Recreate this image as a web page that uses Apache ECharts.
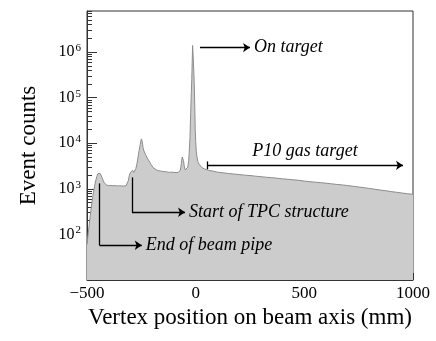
<!DOCTYPE html>
<html>
<head>
<meta charset="utf-8">
<script src="https://cdn.jsdelivr.net/npm/echarts@6/dist/echarts.min.js"></script>
<style>
  html, body { margin: 0; padding: 0; background: #fff; }
  #chart { width: 436px; height: 341px; }
</style>
</head>
<body>
<div id="chart"></div>
<script>
// vertex position along beam axis (mm) and counts per bin
const vertexPos = [
  -500, -495, -490, -485, -480, -475, -470, -465, -460, -455, -450, -445, -440, -435, -430, -425, -420, -415,
  -410, -405, -400, -390, -380, -370, -360, -350, -340, -330, -320, -315, -310, -305, -300, -295, -290, -285,
  -280, -275, -270, -265, -260, -255, -250, -246, -242, -238, -234, -230, -225, -220, -215, -210, -205, -200,
  -195, -190, -180, -170, -160, -150, -140, -130, -120, -110, -100, -90, -80, -75, -70, -66, -62, -59, -56,
  -52, -48, -44, -40, -36, -32, -30, -26, -23, -20, -18, -16, -14, -12, -10, -7, -4, -2, 0, 3, 6, 10, 15,
  20, 30, 40, 60, 80, 100, 125, 150, 175, 200, 225, 250, 275, 300, 325, 350, 375, 400, 425, 450, 475, 500,
  525, 550, 575, 600, 625, 650, 675, 700, 725, 750, 775, 800, 825, 850, 875, 900, 925, 950, 975, 1000
];
const eventCounts = [
  60, 100, 160, 260, 400, 600, 850, 1150, 1500, 1850, 2150, 2250, 2200, 2000, 1750, 1500, 1350, 1250,
  1220, 1200, 1180, 1190, 1170, 1180, 1160, 1170, 1160, 1150, 1180, 1250, 1500, 2000, 2300, 2450, 2550, 2300,
  2400, 2800, 3600, 5000, 7000, 9500, 12500, 11000, 8000, 6800, 6200, 5600, 5000, 4500, 4100, 3800, 3400, 3100,
  2900, 2750, 2600, 2500, 2450, 2400, 2380, 2350, 2300, 2330, 2300, 2280, 2300, 2350, 2600, 3600, 5000, 5200, 4200,
  3000, 2600, 2500, 2600, 3000, 4200, 6000, 14000, 45000, 130000, 250000, 600000, 1400000, 900000, 550000, 240000, 60000, 20000, 11000, 6500, 5000, 4000, 3500,
  3200, 2900, 2750, 2550, 2450, 2330, 2250, 2180, 2120, 2060, 2000, 1960, 1900, 1850, 1800, 1760, 1710, 1660, 1620, 1580, 1540, 1480,
  1440, 1400, 1370, 1330, 1290, 1250, 1220, 1180, 1140, 1100, 1060, 1020, 980, 940, 910, 870, 840, 810, 780, 760
];

const yMajorTicks = [10, 100, 1000, 10000, 100000, 1000000];
const yMinorTicks = [];
for (let d = 10; d <= 1000000; d *= 10) {
  for (let k = 2; k <= 9; k++) {
    if (d * k <= 8000000) yMinorTicks.push(d * k);
  }
}

const serif = "Liberation Serif";
const chart = echarts.init(document.getElementById("chart"));

const annoLine = { color: "#000", width: 1.3, type: "solid" };
function annoLabel(text, extra) {
  return Object.assign({
    show: true,
    position: "end",
    distance: 4,
    fontFamily: serif,
    fontStyle: "italic",
    fontSize: 18,
    color: "#000",
    formatter: text
  }, extra || {});
}
const noLabel = { show: false };

chart.setOption({
  animation: false,
  grid: {
    left: 87,
    top: 11,
    right: 23,
    bottom: 61,
    show: true,
    borderColor: "#333",
    borderWidth: 1
  },
  xAxis: {
    type: "value",
    min: -500,
    max: 1000,
    interval: 500,
    name: "Vertex position on beam axis (mm)",
    nameLocation: "middle",
    nameGap: 26,
    nameTextStyle: { fontFamily: serif, fontSize: 23, color: "#000" },
    axisLine: { onZero: false, lineStyle: { color: "#333", width: 1 } },
    axisTick: { inside: true, length: 7, lineStyle: { color: "#333" } },
    minorTick: { show: true, splitNumber: 5, length: 4, lineStyle: { color: "#333" } },
    splitLine: { show: false },
    axisLabel: {
      margin: 5,
      fontFamily: serif,
      fontSize: 17,
      color: "#000",
      formatter: (v) => String(v).replace("-", "\u2212")
    }
  },
  yAxis: [
    {
      type: "log",
      logBase: 10,
      min: 10,
      max: 8000000,
      name: "Event counts",
      nameLocation: "middle",
      nameGap: 47,
      nameTextStyle: { fontFamily: serif, fontSize: 23, color: "#000" },
      axisLine: { show: true, onZero: false, lineStyle: { color: "#333", width: 1 } },
      axisTick: { inside: true, length: 10, customValues: yMajorTicks, lineStyle: { color: "#333" } },
      splitLine: { show: false },
      axisLabel: {
        margin: 6,
        customValues: yMajorTicks.slice(1),
        formatter: (v) => "{b|10}{e|" + Math.round(Math.log10(v)) + "}",
        rich: {
          b: { fontFamily: serif, fontSize: 16, color: "#000" },
          e: { fontFamily: serif, fontSize: 11, color: "#000", padding: [0, 0, 8, 1] }
        }
      }
    },
    {
      type: "log",
      logBase: 10,
      min: 10,
      max: 8000000,
      position: "left",
      axisLine: { show: false, onZero: false },
      axisTick: { inside: true, length: 5, customValues: yMinorTicks, lineStyle: { color: "#333" } },
      axisLabel: { show: false },
      splitLine: { show: false }
    }
  ],
  series: [
    {
      type: "line",
      yAxisIndex: 0,
      data: vertexPos.map((x, i) => [x, eventCounts[i]]),
      showSymbol: false,
      symbol: "none",
      lineStyle: { color: "#8c8c8c", width: 1 },
      areaStyle: { color: "#cccccc", opacity: 1, origin: "start" },
      z: 1,
      markLine: {
        silent: true,
        symbolSize: 7,
        lineStyle: annoLine,
        data: [
          // On target
          [
            { coord: [20, 1260000], symbol: "none", label: annoLabel("On target") },
            { coord: [250, 1260000], symbol: "arrow" }
          ],
          // P10 gas target
          [
            { coord: [52, 3280], symbol: "none", label: annoLabel("P10 gas target", { position: "middle", distance: 5 }) },
            { coord: [954, 3280], symbol: "arrow" }
          ],
          [
            { coord: [52, 2700], symbol: "none", label: noLabel },
            { coord: [52, 4000], symbol: "none" }
          ],
          // Start of TPC structure
          [
            { coord: [-293, 1790], symbol: "none", label: noLabel },
            { coord: [-293, 307], symbol: "none" }
          ],
          [
            { coord: [-293, 307], symbol: "none", label: annoLabel("Start of TPC structure") },
            { coord: [-49, 307], symbol: "arrow" }
          ],
          // End of beam pipe
          [
            { coord: [-443, 1320], symbol: "none", label: noLabel },
            { coord: [-443, 58], symbol: "none" }
          ],
          [
            { coord: [-443, 58], symbol: "none", label: annoLabel("End of beam pipe") },
            { coord: [-248, 58], symbol: "arrow" }
          ]
        ]
      }
    }
  ]
});
</script>
</body>
</html>
